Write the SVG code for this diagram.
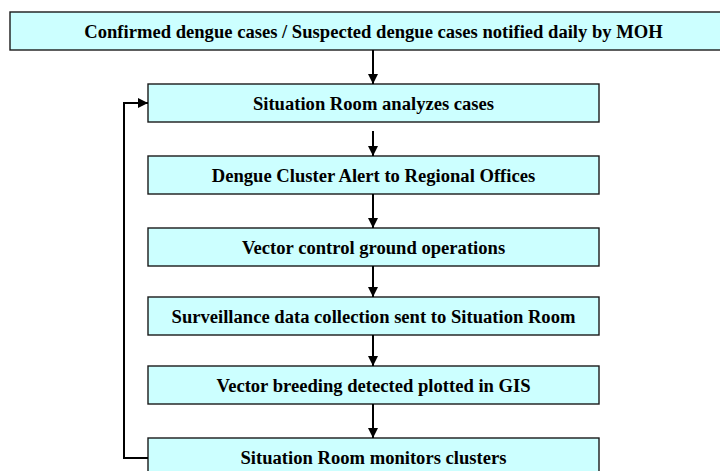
<svg xmlns="http://www.w3.org/2000/svg" width="720" height="471" viewBox="0 0 720 471">
  <style>
    .box { fill: #ccffff; stroke: #1a1a1a; stroke-width: 1.4; }
    .lbl { font-family: "Liberation Serif", "Times New Roman", serif; font-weight: bold; font-size: 18.6px; fill: #000; text-anchor: middle; }
    .link { fill: none; stroke: #000; stroke-width: 2; }
  </style>
  <defs>
    <marker id="arrow" viewBox="0 0 10 10" refX="10" refY="5" markerWidth="5" markerHeight="5" orient="auto" markerUnits="strokeWidth">
      <path d="M0,0 L10,5 L0,10 z" fill="#000"/>
    </marker>
  </defs>

  <g id="notified">
    <rect class="box" x="10" y="12" width="727" height="38"/>
    <text class="lbl" x="373.5" y="37.5">Confirmed dengue cases / Suspected dengue cases notified daily by MOH</text>
  </g>
  <g id="analyzes">
    <rect class="box" x="148" y="84" width="451" height="38"/>
    <text class="lbl" x="373.5" y="109.5">Situation Room analyzes cases</text>
  </g>
  <g id="alert">
    <rect class="box" x="148" y="156" width="451" height="38"/>
    <text class="lbl" x="373.5" y="181.5">Dengue Cluster Alert to Regional Offices</text>
  </g>
  <g id="vector-control">
    <rect class="box" x="148" y="228" width="451" height="38"/>
    <text class="lbl" x="373.5" y="253.5">Vector control ground operations</text>
  </g>
  <g id="surveillance">
    <rect class="box" x="148" y="297" width="451" height="38"/>
    <text class="lbl" x="373.5" y="322.5">Surveillance data collection sent to Situation Room</text>
  </g>
  <g id="breeding">
    <rect class="box" x="148" y="366" width="451" height="38"/>
    <text class="lbl" x="373.5" y="391.5">Vector breeding detected plotted in GIS</text>
  </g>
  <g id="monitors">
    <rect class="box" x="148" y="438" width="451" height="38"/>
    <text class="lbl" x="373.5" y="463.5">Situation Room monitors clusters</text>
  </g>

  <g id="connectors">
    <path class="link" d="M373,50 V84" marker-end="url(#arrow)"/>
    <path class="link" d="M373,131 V156" marker-end="url(#arrow)"/>
    <path class="link" d="M373,194 V228" marker-end="url(#arrow)"/>
    <path class="link" d="M373,266 V297" marker-end="url(#arrow)"/>
    <path class="link" d="M373,335 V366" marker-end="url(#arrow)"/>
    <path class="link" d="M373,404 V438" marker-end="url(#arrow)"/>
    <path class="link" d="M148,458 H124 V103 H148" marker-end="url(#arrow)"/>
  </g>
</svg>
